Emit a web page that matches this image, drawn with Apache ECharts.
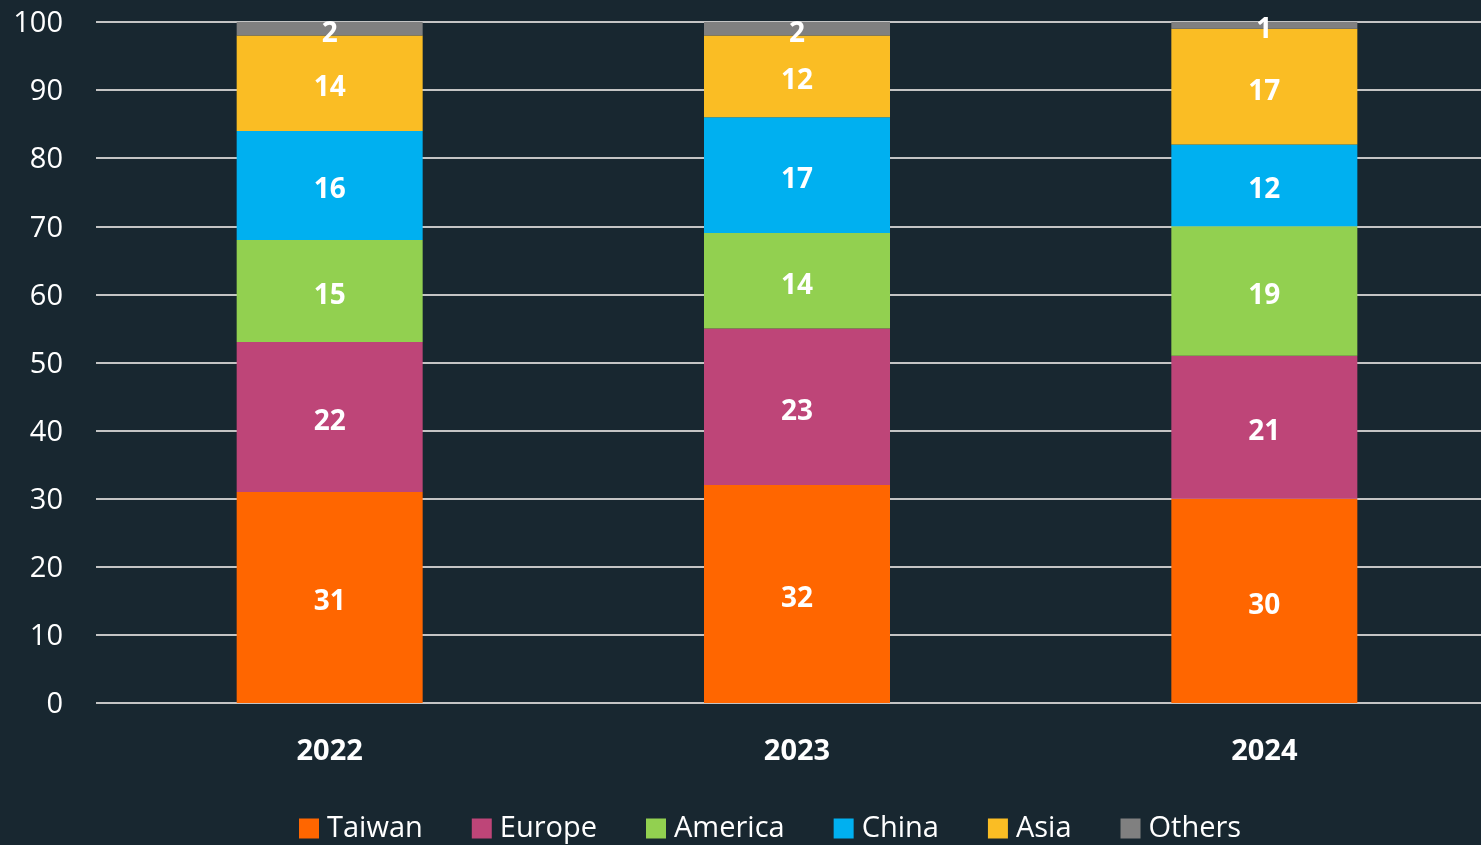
<!DOCTYPE html>
<html>
<head>
<meta charset="utf-8">
<script src="https://cdn.jsdelivr.net/npm/echarts@6/dist/echarts.min.js"></script>
<style>
  html, body { margin: 0; padding: 0; background: #182730; overflow: hidden; }
  /* the plot area continues a little past the right edge of the window */
  #chart { width: 1498px; height: 845px; }
</style>
</head>
<body>
<div id="chart"></div>
<script>
// Market share by region (%), stacked per year
const years = ['2022', '2023', '2024'];
const taiwan  = [31, 32, 30];
const europe  = [22, 23, 21];
const america = [15, 14, 19];
const china   = [16, 17, 12];
const asia    = [14, 12, 17];
const others  = [2, 2, 1];

const seriesDefs = [
  { name: 'Taiwan',  data: taiwan,  color: '#FF6600' },
  { name: 'Europe',  data: europe,  color: '#BE4578' },
  { name: 'America', data: america, color: '#92D050' },
  { name: 'China',   data: china,   color: '#00B0F0' },
  { name: 'Asia',    data: asia,    color: '#FABD24' },
  { name: 'Others',  data: others,  color: '#808080' }
];

const FONT = '"Open Sans", "Noto Sans", sans-serif';

const chart = echarts.init(document.getElementById('chart'), null, { renderer: 'canvas' });

chart.setOption({
  backgroundColor: '#182730',
  animation: false,
  grid: { left: 96, top: 22, right: 0, bottom: 142, containLabel: false },
  legend: {
    data: seriesDefs.map(s => s.name),
    left: 294,
    top: 809,
    itemWidth: 20,
    itemHeight: 20,
    itemGap: 49,
    icon: 'rect',
    textStyle: { color: '#ffffff', fontSize: 29, fontFamily: FONT, padding: [0, 0, 0, 3] }
  },
  xAxis: {
    type: 'category',
    data: years,
    axisLine: { show: false },
    axisTick: { show: false },
    axisLabel: {
      color: '#ffffff', fontSize: 29, fontWeight: 'bold', fontFamily: FONT, margin: 34
    }
  },
  yAxis: {
    type: 'value',
    min: 0, max: 100, interval: 10,
    axisLine: { show: false },
    axisTick: { show: false },
    axisLabel: {
      margin: 33,
      formatter: '{v|{value}}',
      rich: {
        v: { color: '#ffffff', fontSize: 29, fontFamily: FONT, padding: [4, 0, 0, 0] }
      }
    },
    splitLine: { lineStyle: { color: '#c4c4c4', width: 2 } }
  },
  series: seriesDefs.map(s => ({
    name: s.name,
    type: 'bar',
    stack: 'total',
    barWidth: 186,
    data: s.data,
    itemStyle: { color: s.color },
    label: {
      show: true,
      position: 'inside',
      offset: [0, 5],
      color: '#ffffff',
      fontSize: 28,
      fontWeight: 'bold',
      fontFamily: FONT
    }
  }))
});
</script>
</body>
</html>
